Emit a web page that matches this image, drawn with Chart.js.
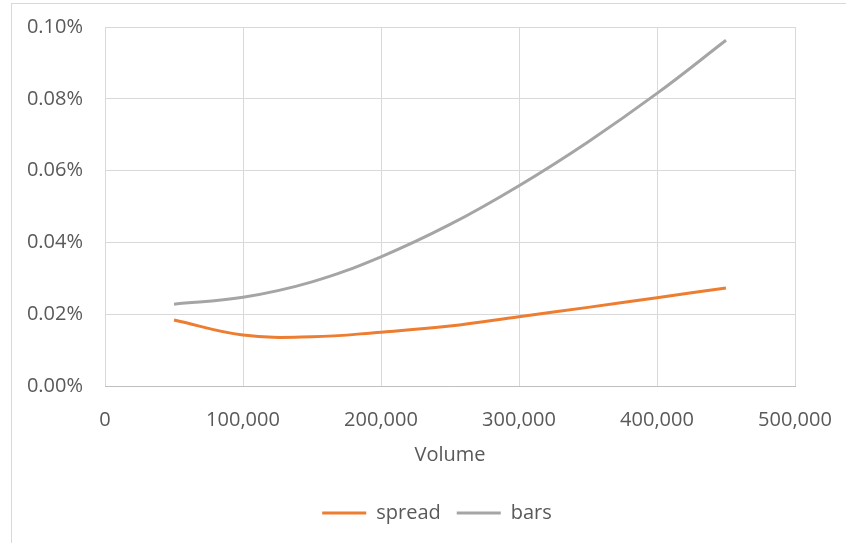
<!DOCTYPE html>
<html>
<head>
<meta charset="utf-8">
<script src="https://cdn.jsdelivr.net/npm/chart.js@4"></script>
<style>
  html, body { margin: 0; padding: 0; background: #fff; }
  #wrap { position: relative; width: 846px; height: 543px; overflow: hidden; }
  #frame { position: absolute; left: 11px; top: 3px; width: 900px; height: 600px; border: 1px solid #d9d9d9; box-sizing: border-box; }
  canvas { position: absolute; left: 0; top: 0; }
</style>
</head>
<body>
<div id="wrap">
  <div id="frame"></div>
  <canvas id="chart" width="846" height="543"></canvas>
</div>
<script>
const volume = [50000, 100000, 150000, 200000, 250000, 300000, 350000, 400000, 450000];
const spread = [0.0184, 0.0142, 0.0137, 0.0150, 0.0167, 0.0193, 0.0219, 0.0246, 0.0273];
const bars = [0.0228, 0.0247, 0.0290, 0.0360, 0.0450, 0.0558, 0.0680, 0.0815, 0.0963];
const xTicks = [0, 100000, 200000, 300000, 400000, 500000];
const yTicks = [0, 0.02, 0.04, 0.06, 0.08, 0.10];

const font = { family: 'Open Sans', size: 20 };
const textColor = '#595959';
const gridColor = '#d9d9d9';

const toPoints = ys => volume.map((v, i) => ({ x: v, y: ys[i] }));

// Excel centres the legend on the whole chart frame, not on the plot box
const legendShift = {
    id: 'legendShift',
    afterLayout(chart) {
        chart.legend.left += 34;
        chart.legend.right += 34;
    }
};

new Chart(document.getElementById('chart'), {
    type: 'line',
    data: {
        datasets: [{
            label: 'spread',
            data: toPoints(spread),
            borderColor: '#ed7d31',
            backgroundColor: '#ed7d31',
            borderWidth: 3,
            pointRadius: 0,
            pointHoverRadius: 0,
            tension: 0.4
        }, {
            label: 'bars',
            data: toPoints(bars),
            borderColor: '#a5a5a5',
            backgroundColor: '#a5a5a5',
            borderWidth: 3,
            pointRadius: 0,
            pointHoverRadius: 0,
            tension: 0.4
        }]
    },
    options: {
        responsive: false,
        animation: false,
        layout: { autoPadding: false, padding: { left: 11, right: 51, top: 27, bottom: 10 } },
        plugins: {
            tooltip: { enabled: false },
            legend: {
                position: 'bottom',
                labels: {
                    font: font,
                    color: textColor,
                    usePointStyle: true,
                    pointStyle: 'line',
                    pointStyleWidth: 44,
                    padding: 16
                }
            }
        },
        scales: {
            x: {
                type: 'linear',
                min: 0,
                max: 500000,
                afterBuildTicks: axis => { axis.ticks = xTicks.map(v => ({ value: v })); },
                afterFit: axis => {
                    axis.height = 101;
                    axis.paddingLeft = 0;
                    axis.paddingRight = 0;
                },
                grid: { color: gridColor, drawTicks: false },
                border: { color: '#bfbfbf' },
                ticks: {
                    font: font,
                    color: textColor,
                    padding: 22,
                    maxRotation: 0,
                    callback: v => v.toLocaleString('en-US')
                },
                title: { display: true, text: 'Volume', font: font, color: textColor, padding: { top: 0, bottom: 20 } }
            },
            y: {
                min: 0,
                max: 0.10,
                afterBuildTicks: axis => { axis.ticks = yTicks.map(v => ({ value: v })); },
                afterFit: axis => {
                    axis.width = 94;
                    axis.paddingTop = 0;
                    axis.paddingBottom = 0;
                },
                grid: { color: gridColor, drawTicks: false },
                border: { display: false },
                ticks: {
                    font: font,
                    color: textColor,
                    padding: 22,
                    callback: v => v.toFixed(2) + '%'
                }
            }
        }
    },
    plugins: [legendShift]
});
</script>
</body>
</html>
